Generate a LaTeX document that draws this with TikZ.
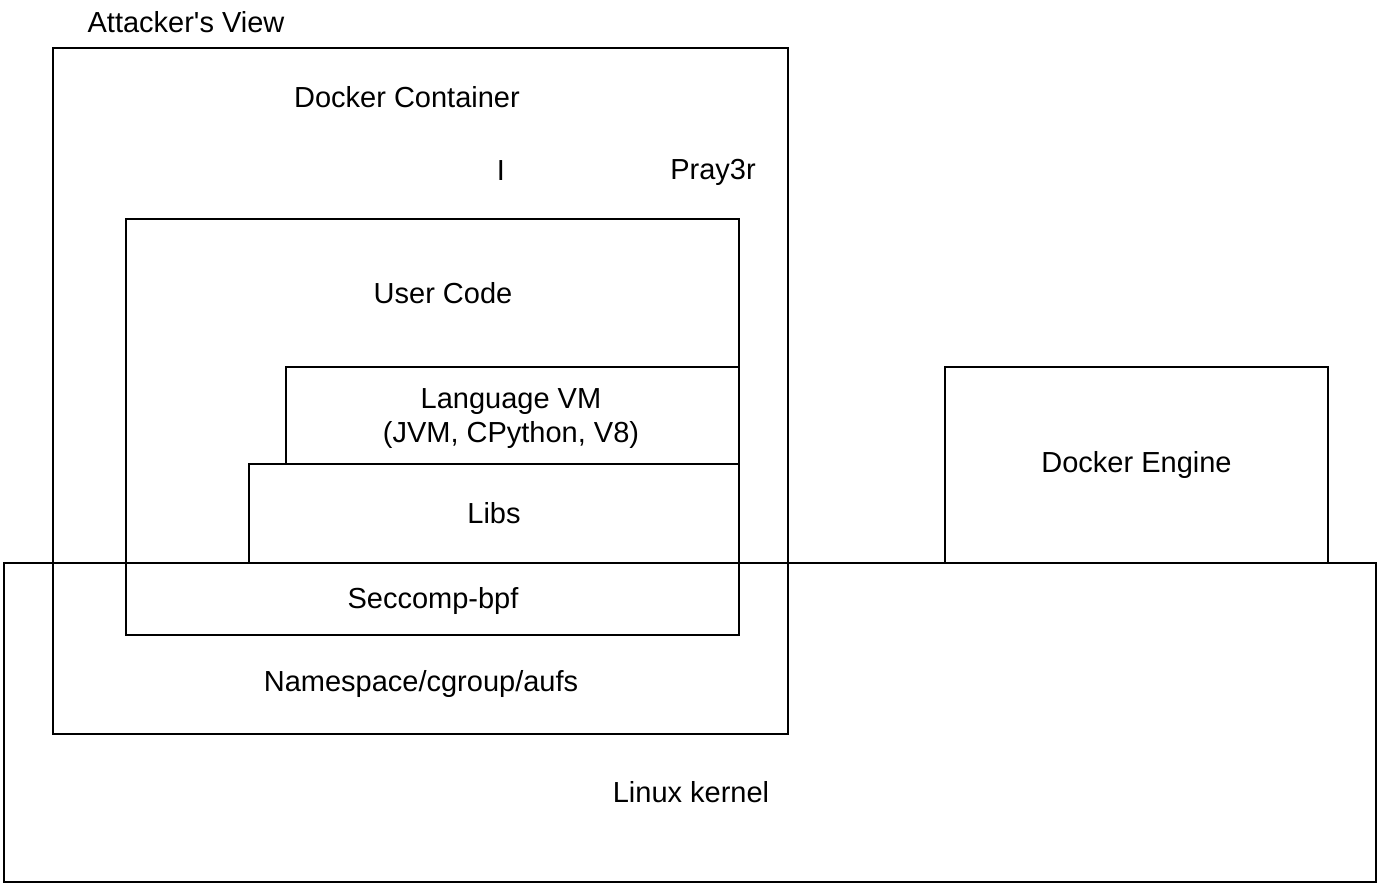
\documentclass[tikz,border=0pt]{standalone}
\usepackage{fontspec}
\setmainfont{Liberation Sans}[Ligatures=TeXOff]
\usetikzlibrary{positioning}

\begin{document}
\begin{tikzpicture}[x=1pt,y=-1pt,
 box/.style={draw,line width=2pt,inner sep=0pt,anchor=north west,
  font=\fontsize{29}{34}\selectfont,align=center},
 label text/.style={font=\fontsize{29}{34}\selectfont,align=center}]
  \useasboundingbox (0,0) rectangle (1378,884);

  \node[box,minimum width=1372pt,minimum height=319pt] (kernel) at (3,562) {};
  \node[box,minimum width=735pt,minimum height=686pt] (container) at (52,47) {};
  \node[box,minimum width=613pt,minimum height=416pt] (usercode) at (125,218) {};
  \node[box,minimum width=453pt,minimum height=97pt] (langvm) at (285,366) {};
  \node[box,minimum width=490pt,minimum height=99pt] (libs) at (248,463) {Libs};
  \node[box,minimum width=383pt,minimum height=196pt] (engine) at (944,366) {Docker Engine};

  \node[label text] (view) at (186,22) {Attacker's View};
  \node[label text] (dc) at (407,97) {Docker Container};
  \node[label text] (cursor) at (501,171) {I};
  \node[label text] (pray) at (713,172) {Pray3r};
  \node[label text] (uc) at (443,293) {User Code};
  \node[label text] (vm) at (511,419) {Language VM\\(JVM, CPython, V8)};
  \node[label text] (sec) at (433,601) {Seccomp-bpf};
  \node[label text] (ns) at (421,684) {Namespace/cgroup/aufs};
  \node[label text] (lk) at (691,792) {Linux kernel};
\end{tikzpicture}
\end{document}
